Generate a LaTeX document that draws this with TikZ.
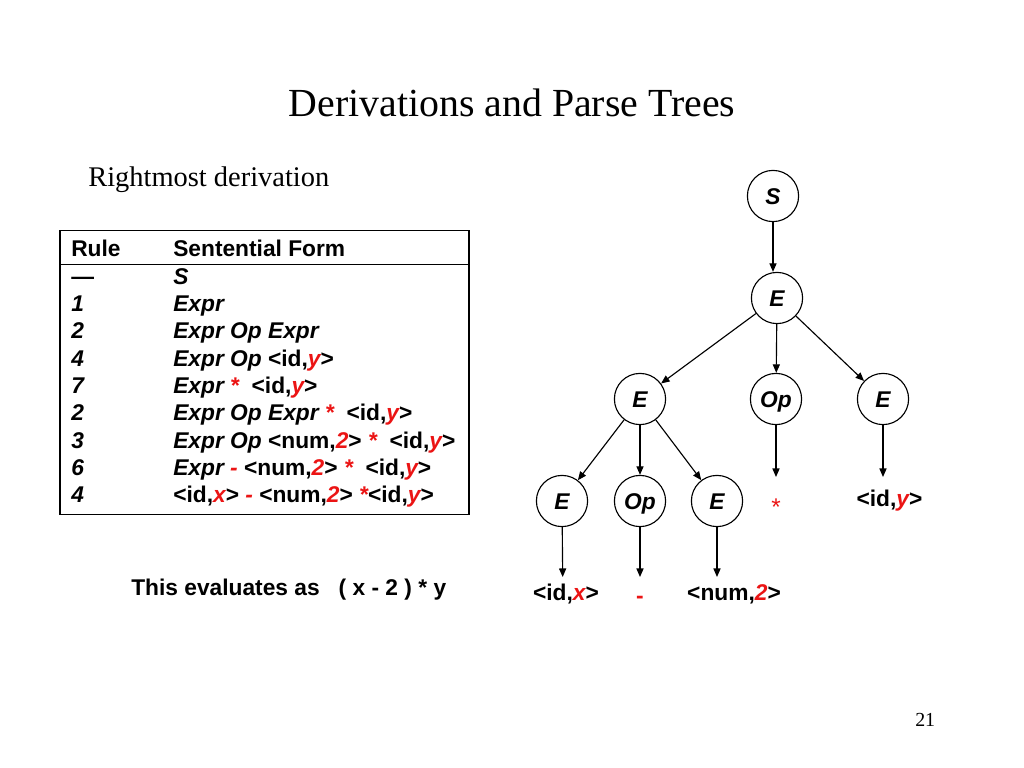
\documentclass[tikz,border=0pt]{standalone}
\usepackage{fontspec}
\setmainfont{Liberation Serif}
\newfontfamily\arialf{Liberation Sans}
\usetikzlibrary{arrows.meta}
\definecolor{slidered}{RGB}{235,20,20}
\newcommand\rd[1]{\textcolor{slidered}{\itshape #1}}
\tikzset{
  tbl/.style={anchor=base west, inner sep=0pt, font=\arialf\bfseries\fontsize{16bp}{19bp}\selectfont},
  tnode/.style={circle, draw, line width=0.8bp, minimum size=36bp, inner sep=0pt,
    text height=11.5bp, text depth=0bp,
    font=\arialf\bfseries\itshape\fontsize{16bp}{19bp}\selectfont},
  leaf/.style={anchor=base, inner sep=0pt, font=\arialf\bfseries\fontsize{16bp}{19bp}\selectfont},
  arr/.style={line width=0.8bp, -{Triangle[length=6bp,width=5bp]}},
}
\begin{document}
\begin{tikzpicture}[x=0.703125bp, y=-0.703125bp]
\useasboundingbox (0,0) rectangle (1024,768);
% title and captions
\node[anchor=base, inner sep=0pt, font=\fontsize{28bp}{33bp}\selectfont] (title) at (512,116.7) {Derivations and Parse Trees};
\node[anchor=base west, inner sep=0pt, font=\fontsize{20bp}{24bp}\selectfont] (sub) at (88,186) {Rightmost derivation};
\node[anchor=base west, inner sep=0pt, font=\fontsize{14bp}{17bp}\selectfont] (pnum) at (915,726) {21};
% table
\draw[line width=0.8bp] (60,230.3) rectangle (469,514.7);
\draw[line width=0.8bp] (60,264.3) -- (469,264.3);
\node[tbl] (hr) at (71,256.7) {Rule};
\node[tbl] (hs) at (173,256.7) {Sentential Form};
\foreach \r/\f [count=\i from 0] in {
  {—}/{\itshape S},
  {\itshape 1}/{\itshape Expr},
  {\itshape 2}/{\itshape Expr Op Expr},
  {\itshape 4}/{\itshape Expr Op\/ \upshape<id,\rd{y}>},
  {\itshape 7}/{\itshape Expr \rd{*}\ \ \upshape<id,\rd{y}>},
  {\itshape 2}/{\itshape Expr Op Expr \rd{*}\ \ \upshape<id,\rd{y}>},
  {\itshape 3}/{\itshape Expr Op\/ \upshape<num,\rd{2}> \rd{*}\ \ <id,\rd{y}>},
  {\itshape 6}/{\itshape Expr \rd{-} \upshape<num,\rd{2}> \rd{*}\ \ <id,\rd{y}>},
  {\itshape 4}/{<id,\rd{x}> \rd{-} <num,\rd{2}> \rd{*}<id,\rd{y}>}}{
  \node[tbl] (r\i) at (71,284.3+27.3*\i) {\r};
  \node[tbl] (f\i) at (173,284.3+27.3*\i) {\f};
}
\node[tbl] (eval) at (131,595) {This evaluates as\ \ \ ( x - 2 ) * y};
% tree
\node[tnode] (S) at (773,196) {S};
\node[tnode] (E1) at (777,298) {E};
\node[tnode] (E2) at (640,399) {E};
\node[tnode] (Op1) at (776,399) {Op};
\node[tnode] (E3) at (883,399) {E};
\node[tnode] (E4) at (562,501) {E};
\node[tnode] (Op2) at (640,501) {Op};
\node[tnode] (E5) at (717,501) {E};
% leaves
\node[leaf] (lx) at (566,600) {<id,\rd{x}>};
\node[leaf, text=slidered] (lm) at (640,603) {-};
\node[leaf] (l2) at (734,600) {<num,\rd{2}>};
\node[leaf, font=\arialf\fontsize{17bp}{19bp}\selectfont, text=slidered] (ls) at (776,515) {*};
\node[leaf] (ly) at (889.5,506.7) {<id,\rd{y}>};
% arrow tips above leaves
\coordinate (tx) at (562.7,577);
\coordinate (tm) at (640,577);
\coordinate (t2) at (717,577);
\coordinate (ts) at (776,477);
\coordinate (ty) at (883,477);
% edges
\draw[arr] (S) -- (S |- E1.north);
\draw[arr] (E1) -- (E2);
\draw[arr] (E1) -- (Op1);
\draw[arr] (E1) -- (E3);
\draw[arr] (E2) -- (E4);
\draw[arr] (E2) -- (Op2);
\draw[arr] (E2) -- (E5);
\draw[arr] (E4) -- (tx);
\draw[arr] (Op2) -- (tm);
\draw[arr] (E5) -- (t2);
\draw[arr] (Op1) -- (ts);
\draw[arr] (E3) -- (ty);
\end{tikzpicture}
\end{document}
